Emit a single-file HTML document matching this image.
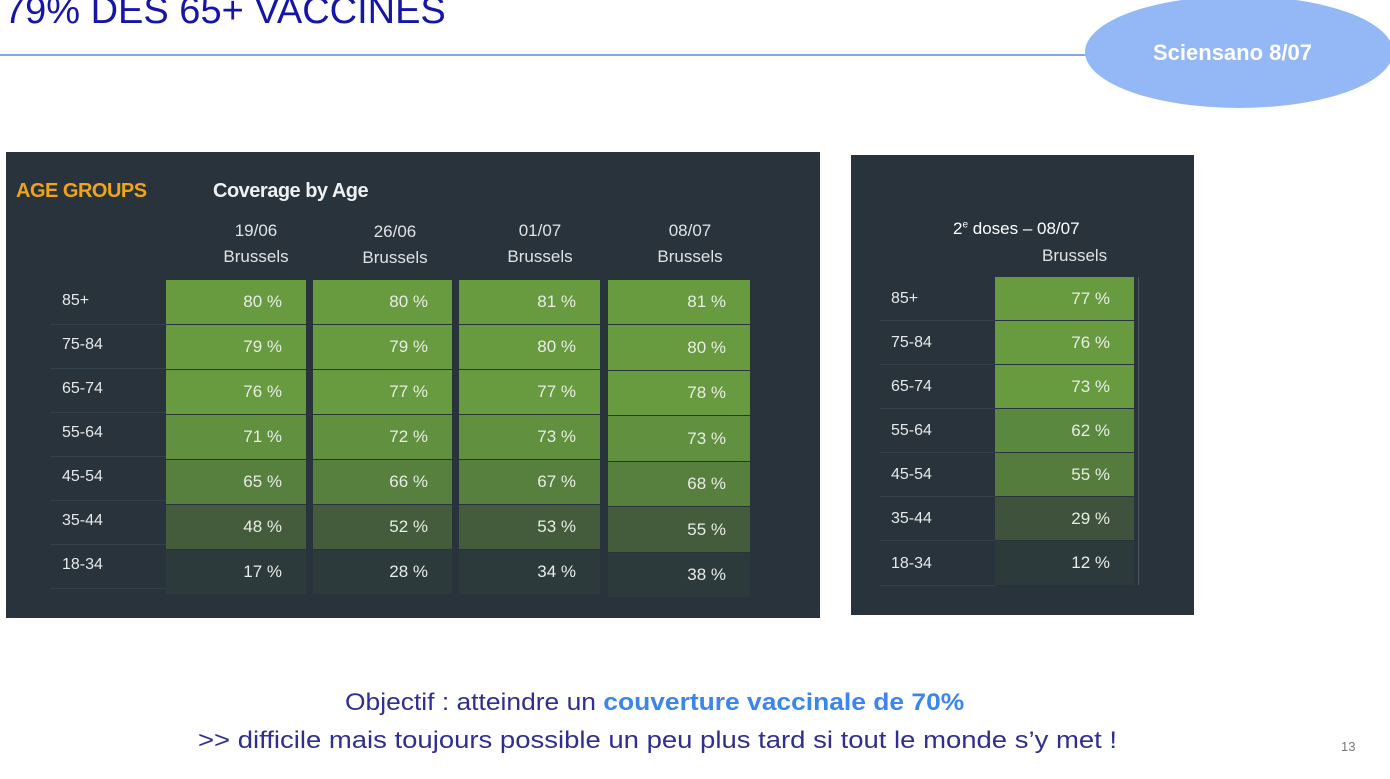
<!DOCTYPE html>
<html><head><meta charset="utf-8"><style>
body{margin:0;width:1390px;height:779px;background:#fff;position:relative;overflow:hidden;font-family:"Liberation Sans",sans-serif}
.a{position:absolute}
.p{background:#29333b}
.c{position:absolute;color:#e8ece6;font-size:17px;text-align:right;box-sizing:border-box;padding-right:24px;display:flex;align-items:center;justify-content:flex-end}
.l{position:absolute;color:#e6e9ea;font-size:16px}
.s{position:absolute;height:1px;background:#34414a}
.h{position:absolute;color:#dfe3e6;font-size:17px;text-align:center;width:140px;line-height:26px}
.g1{background:#689b3f}.g2{background:#61913e}.g3{background:#577f3d}.g4{background:#445c3b}.g5{background:#2d3a3b}
</style></head><body>
<div class="a" style="left:4px;top:-10px;font-size:38px;color:#1515a8;white-space:nowrap">79% DES 65+ VACCINES</div>
<div class="a" style="left:0;top:54px;width:1100px;height:2px;background:#7fa6ee"></div>
<div class="a" style="left:1085px;top:-4px;width:308px;height:112px;border-radius:50%;background:#94b8f6"></div>
<div class="a" style="left:1153px;top:40px;font-size:22px;font-weight:bold;color:#fff">Sciensano 8/07</div>

<div class="a p" style="left:6px;top:152px;width:814px;height:466px"></div>
<div class="a" style="left:16px;top:180px;font-size:20px;font-weight:bold;color:#f0a418;letter-spacing:-0.5px">AGE GROUPS</div>
<div class="a" style="left:213px;top:180px;font-size:20px;font-weight:bold;color:#eef0f1;letter-spacing:-0.5px">Coverage by Age</div>
<div class="h" style="left:186px;top:218px">19/06<br>Brussels</div>
<div class="h" style="left:325px;top:219px">26/06<br>Brussels</div>
<div class="h" style="left:470px;top:218px">01/07<br>Brussels</div>
<div class="h" style="left:620px;top:218px">08/07<br>Brussels</div>

<div class="l" style="left:62px;top:292px">85+</div><div class="s" style="left:50px;top:324px;width:116px"></div>
<div class="l" style="left:62px;top:336px">75-84</div><div class="s" style="left:50px;top:368px;width:116px"></div>
<div class="l" style="left:62px;top:380px">65-74</div><div class="s" style="left:50px;top:412px;width:116px"></div>
<div class="l" style="left:62px;top:424px">55-64</div><div class="s" style="left:50px;top:456px;width:116px"></div>
<div class="l" style="left:62px;top:468px">45-54</div><div class="s" style="left:50px;top:500px;width:116px"></div>
<div class="l" style="left:62px;top:512px">35-44</div><div class="s" style="left:50px;top:544px;width:116px"></div>
<div class="l" style="left:62px;top:556px">18-34</div><div class="s" style="left:50px;top:588px;width:116px"></div>

<div class="c g1" style="left:166px;top:280px;width:140px;height:44px">80 %</div>
<div class="c g1" style="left:166px;top:325px;width:140px;height:44px">79 %</div>
<div class="c g1" style="left:166px;top:370px;width:140px;height:44px">76 %</div>
<div class="c g2" style="left:166px;top:415px;width:140px;height:44px">71 %</div>
<div class="c g3" style="left:166px;top:460px;width:140px;height:44px">65 %</div>
<div class="c g4" style="left:166px;top:505px;width:140px;height:44px">48 %</div>
<div class="c g5" style="left:166px;top:550px;width:140px;height:44px">17 %</div>

<div class="c g1" style="left:313px;top:280px;width:139px;height:44px">80 %</div>
<div class="c g1" style="left:313px;top:325px;width:139px;height:44px">79 %</div>
<div class="c g1" style="left:313px;top:370px;width:139px;height:44px">77 %</div>
<div class="c g2" style="left:313px;top:415px;width:139px;height:44px">72 %</div>
<div class="c g3" style="left:313px;top:460px;width:139px;height:44px">66 %</div>
<div class="c g4" style="left:313px;top:505px;width:139px;height:44px">52 %</div>
<div class="c g5" style="left:313px;top:550px;width:139px;height:44px">28 %</div>

<div class="c g1" style="left:459px;top:280px;width:141px;height:44px">81 %</div>
<div class="c g1" style="left:459px;top:325px;width:141px;height:44px">80 %</div>
<div class="c g1" style="left:459px;top:370px;width:141px;height:44px">77 %</div>
<div class="c g2" style="left:459px;top:415px;width:141px;height:44px">73 %</div>
<div class="c g3" style="left:459px;top:460px;width:141px;height:44px">67 %</div>
<div class="c g4" style="left:459px;top:505px;width:141px;height:44px">53 %</div>
<div class="c g5" style="left:459px;top:550px;width:141px;height:44px">34 %</div>

<div class="c g1" style="left:608px;top:280px;width:142px;height:44px">81 %</div>
<div class="c g1" style="left:608px;top:325px;width:142px;height:45px">80 %</div>
<div class="c g1" style="left:608px;top:371px;width:142px;height:44px">78 %</div>
<div class="c g2" style="left:608px;top:416px;width:142px;height:45px">73 %</div>
<div class="c g3" style="left:608px;top:462px;width:142px;height:44px">68 %</div>
<div class="c g4" style="left:608px;top:507px;width:142px;height:45px">55 %</div>
<div class="c g5" style="left:608px;top:553px;width:142px;height:44px">38 %</div>

<div class="a p" style="left:851px;top:155px;width:343px;height:460px"></div>
<div class="a" style="left:953px;top:219px;font-size:17px;color:#fff">2<sup style="font-size:10px">e</sup> doses – 08/07</div>
<div class="a" style="left:1042px;top:246px;font-size:17px;color:#dfe3e6">Brussels</div>
<div class="l" style="left:891px;top:290px">85+</div><div class="s" style="left:880px;top:320px;width:115px"></div>
<div class="l" style="left:891px;top:334px">75-84</div><div class="s" style="left:880px;top:364px;width:115px"></div>
<div class="l" style="left:891px;top:378px">65-74</div><div class="s" style="left:880px;top:408px;width:115px"></div>
<div class="l" style="left:891px;top:422px">55-64</div><div class="s" style="left:880px;top:452px;width:115px"></div>
<div class="l" style="left:891px;top:466px">45-54</div><div class="s" style="left:880px;top:496px;width:115px"></div>
<div class="l" style="left:891px;top:510px">35-44</div><div class="s" style="left:880px;top:540px;width:115px"></div>
<div class="l" style="left:891px;top:555px">18-34</div><div class="s" style="left:880px;top:585px;width:115px"></div>
<div class="c g1" style="left:995px;top:277px;width:139px;height:43px">77 %</div>
<div class="c g1" style="left:995px;top:321px;width:139px;height:43px">76 %</div>
<div class="c g1" style="left:995px;top:365px;width:139px;height:43px">73 %</div>
<div class="c" style="left:995px;top:409px;width:139px;height:43px;background:#5a883e">62 %</div>
<div class="c" style="left:995px;top:453px;width:139px;height:43px;background:#557c3d">55 %</div>
<div class="c" style="left:995px;top:497px;width:139px;height:43px;background:#3f523b">29 %</div>
<div class="c g5" style="left:995px;top:541px;width:139px;height:44px">12 %</div>
<div class="a" style="left:1138px;top:277px;width:1px;height:308px;background:#4a555c"></div>

<div class="a" style="left:345px;top:689px;font-size:24px;color:#2f2f90;white-space:nowrap;transform-origin:0 0;transform:scaleX(1.1)">Objectif : atteindre un <b style="color:#3b86ee">couverture vaccinale de 70%</b></div>
<div class="a" style="left:198px;top:727px;font-size:24px;color:#2f2f90;white-space:nowrap;transform-origin:0 0;transform:scaleX(1.145)">&gt;&gt; difficile mais toujours possible un peu plus tard si tout le monde s’y met !</div>
<div class="a" style="left:1341px;top:739px;font-size:13px;color:#777">13</div>
</body></html>
